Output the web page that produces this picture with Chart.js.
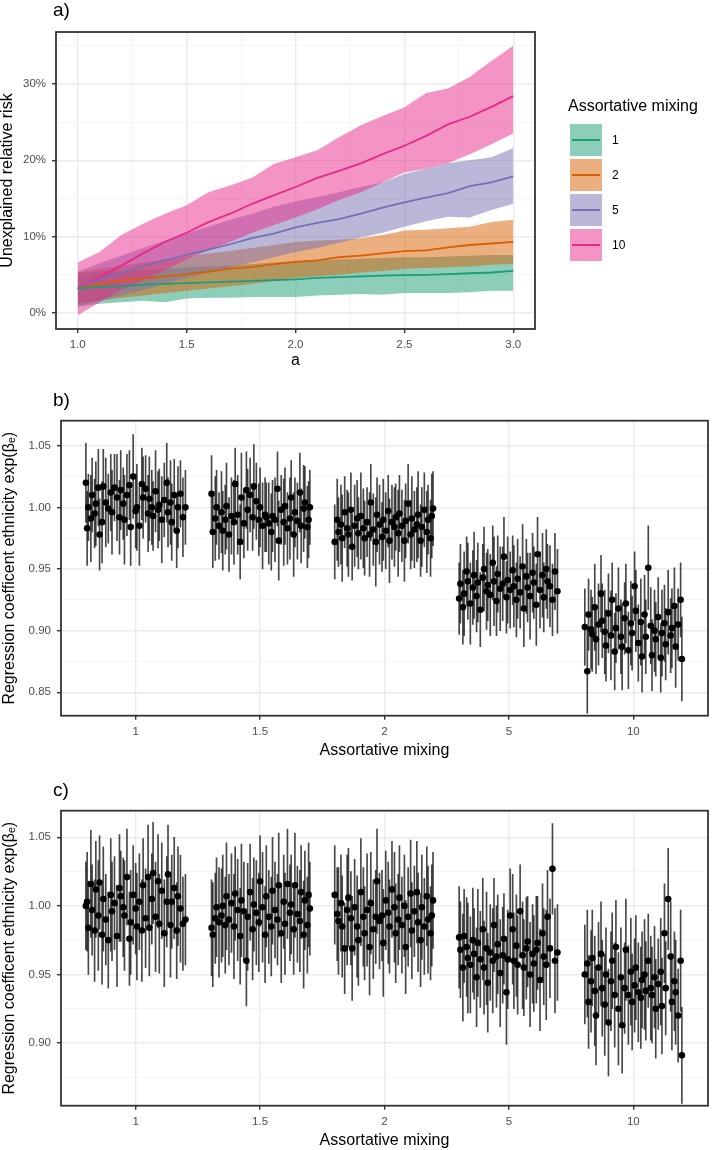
<!DOCTYPE html>
<html><head><meta charset="utf-8">
<script src="https://cdn.jsdelivr.net/npm/chart.js@4.4.1/dist/chart.umd.min.js"></script>
<style>
html,body{margin:0;padding:0;background:#fff;overflow:hidden;width:712px;height:1150px;font-family:'Liberation Sans',Arial,Helvetica,sans-serif;}
canvas{position:absolute;left:0;}
.plab{position:absolute;left:53px;font-size:19px;line-height:19px;color:#000;}
.ltitle{position:absolute;left:568px;top:98px;font-size:16px;line-height:16px;color:#000;white-space:nowrap;}
.lkey{position:absolute;left:569.5px;width:32px;height:32px;}
.lkey div{position:absolute;left:2px;right:2px;top:15px;height:2px;}
.ltext{position:absolute;left:612px;height:32px;line-height:32px;font-size:12px;color:#000;}
</style></head><body>
<canvas id="ca" width="712" height="370" style="top:0"></canvas>
<canvas id="cb" width="712" height="390" style="top:375px"></canvas>
<canvas id="cc" width="712" height="385" style="top:765px"></canvas>
<div class="plab" style="top:0px">a)</div>
<div class="plab" style="top:390px">b)</div>
<div class="plab" style="top:780px">c)</div>
<div class="ltitle">Assortative mixing</div>
<div id="legend"></div>
<script>
// ---------- Panel a data ----------
const aX = [1.0,1.1,1.2,1.3,1.4,1.5,1.6,1.7,1.8,1.9,2.0,2.1,2.2,2.3,2.4,2.5,2.6,2.7,2.8,2.9,3.0];
const seriesNames = ['1','2','5','10'];
const seriesColors = ['#1b9e77','#d95f02','#7570b3','#e7298a'];
const seriesFills = ['rgba(27,158,119,0.5)','rgba(217,95,2,0.5)','rgba(117,112,179,0.5)','rgba(231,41,138,0.5)'];
const mid1 = [3.2,3.4,3.5,3.7,3.8,3.9,4.0,4.1,4.2,4.3,4.4,4.6,4.7,4.8,4.9,4.95,5.0,5.1,5.2,5.3,5.5];
const lo1  = [0.8,1.2,1.4,1.6,1.4,1.9,2.0,2.0,2.1,2.1,2.1,2.3,2.4,2.5,2.4,2.6,2.6,2.6,2.7,2.9,2.9];
const hi1  = [5.2,5.4,5.6,5.7,5.8,6.0,6.1,6.2,6.4,6.6,6.8,6.9,7.0,7.1,7.2,7.3,7.3,7.4,7.5,7.6,7.6];
const mid2 = [3.2,3.8,4.2,4.5,4.8,5.1,5.4,5.8,6.0,6.4,6.7,6.9,7.3,7.5,7.8,8.1,8.2,8.6,8.9,9.1,9.3];
const lo2  = [1.3,1.6,2.0,2.3,2.6,2.9,3.2,3.5,3.8,4.2,4.6,4.8,5.0,5.3,5.5,5.8,5.9,6.0,6.1,6.3,6.4];
const hi2  = [5.3,5.8,6.2,6.6,7.0,7.4,7.8,8.1,8.5,8.9,9.3,9.5,9.6,9.8,10.2,10.8,10.9,11.1,11.3,11.9,12.2];
const mid3 = [3.2,4.4,5.3,6.1,6.9,7.6,8.3,9.0,9.8,10.4,11.2,11.8,12.3,13.0,13.8,14.5,15.1,15.7,16.6,17.1,17.9];
const lo3  = [1.0,1.6,2.3,3.0,3.8,4.6,5.3,6.0,6.6,7.3,8.0,8.5,9.2,9.9,10.5,11.3,12.0,12.6,12.5,13.5,14.3];
const hi3  = [5.4,6.5,7.5,8.5,9.5,10.4,11.3,12.2,13.0,13.9,14.6,15.2,15.8,16.5,17.1,18.2,18.9,19.6,20.0,20.4,21.6];
const mid4 = [3.2,4.7,6.2,7.8,9.3,10.5,11.9,13.0,14.3,15.4,16.5,17.7,18.6,19.6,20.8,21.9,23.2,24.7,25.7,27.0,28.4];
const lo4  = [-0.3,1.4,3.0,4.3,5.6,7.0,8.2,9.3,10.5,11.5,12.5,13.6,14.8,15.8,17.1,18.4,18.9,19.6,20.8,22.1,23.5];
const hi4  = [6.6,8.0,10.2,11.7,13.0,14.1,15.8,16.7,17.7,19.5,20.4,21.3,23.0,24.6,25.8,26.9,28.8,29.4,30.9,33.0,35.0];
const aYMajor = [0,10,20,30], aYMinor = [5,15,25,35];
const aXMajor = [1,1.5,2,2.5,3], aXMinor = [1.25,1.75,2.25,2.75];

// ---------- Panels b, c data ----------
const xCats = ['1','1.5','2','5','10'];
const jit1 = [-0.40,-0.39,-0.38,-0.36,-0.35,-0.33,-0.32,-0.30,-0.29,-0.27,-0.26,-0.24,-0.22,-0.20,-0.19,-0.17,-0.15,-0.13,-0.12,-0.10,-0.09,-0.07,-0.05,-0.04,-0.02,0.00,0.01,0.03,0.05,0.06,0.08,0.10,0.11,0.13,0.14,0.16,0.18,0.19,0.21,0.23,0.25,0.26,0.28,0.29,0.31,0.33,0.34,0.36,0.38,0.40];
const jit2 = [-0.39,-0.38,-0.36,-0.35,-0.33,-0.31,-0.30,-0.28,-0.27,-0.25,-0.23,-0.21,-0.20,-0.18,-0.16,-0.15,-0.13,-0.11,-0.10,-0.08,-0.06,-0.05,-0.03,-0.01,0.00,0.02,0.04,0.05,0.07,0.09,0.10,0.12,0.14,0.15,0.17,0.19,0.20,0.22,0.24,0.25,0.27,0.28,0.30,0.32,0.33,0.35,0.36,0.38,0.39,0.40];
const jit3 = [-0.40,-0.38,-0.37,-0.35,-0.34,-0.32,-0.30,-0.29,-0.27,-0.26,-0.24,-0.22,-0.21,-0.19,-0.17,-0.16,-0.14,-0.12,-0.11,-0.09,-0.07,-0.06,-0.04,-0.02,-0.01,0.01,0.03,0.04,0.06,0.08,0.09,0.11,0.12,0.14,0.16,0.17,0.19,0.21,0.22,0.24,0.26,0.27,0.29,0.30,0.32,0.34,0.35,0.37,0.38,0.39];
const jit4 = [-0.40,-0.39,-0.37,-0.36,-0.34,-0.33,-0.31,-0.29,-0.28,-0.26,-0.25,-0.23,-0.21,-0.20,-0.18,-0.17,-0.15,-0.13,-0.12,-0.10,-0.09,-0.07,-0.05,-0.04,-0.02,-0.01,0.01,0.03,0.04,0.06,0.07,0.09,0.11,0.12,0.14,0.15,0.17,0.19,0.20,0.22,0.23,0.25,0.27,0.28,0.30,0.31,0.33,0.35,0.37,0.39];
const jit5 = [-0.39,-0.37,-0.36,-0.34,-0.33,-0.31,-0.30,-0.28,-0.26,-0.25,-0.23,-0.22,-0.20,-0.18,-0.17,-0.15,-0.14,-0.12,-0.10,-0.09,-0.07,-0.06,-0.04,-0.02,-0.01,0.01,0.02,0.04,0.06,0.07,0.09,0.10,0.12,0.14,0.15,0.17,0.18,0.20,0.22,0.23,0.25,0.26,0.28,0.30,0.31,0.33,0.34,0.36,0.38,0.39];

const estB1 = [1.020,0.983,1.000,0.991,1.010,0.995,1.003,1.016,0.978,0.988,1.017,1.004,0.999,1.012,0.996,1.016,1.008,0.992,1.014,1.003,0.990,1.010,1.018,0.984,1.025,0.997,1.000,0.985,1.019,1.008,1.015,0.995,1.007,1.000,0.993,1.013,0.998,1.002,0.990,1.006,1.020,0.996,1.004,0.988,1.010,0.981,1.000,1.011,0.992,1.000];
const hwB1  = [0.032,0.030,0.027,0.035,0.030,0.028,0.034,0.031,0.029,0.033,0.030,0.036,0.028,0.031,0.034,0.027,0.035,0.030,0.032,0.029,0.036,0.033,0.028,0.031,0.034,0.030,0.035,0.032,0.029,0.033,0.027,0.031,0.034,0.030,0.028,0.033,0.031,0.029,0.035,0.030,0.032,0.028,0.034,0.031,0.029,0.030,0.033,0.027,0.032,0.030];
const estB2 = [1.011,0.980,0.991,1.000,0.985,0.996,0.981,0.990,1.001,0.978,0.993,0.988,1.019,0.994,0.972,1.008,0.987,1.014,0.998,1.010,0.992,1.017,1.005,0.990,1.000,0.985,0.994,0.992,0.987,0.980,0.993,0.990,1.015,0.973,0.998,0.988,1.001,0.983,0.991,1.008,0.978,0.996,0.989,1.012,0.985,0.999,1.004,0.984,0.990,1.000];
const hwB2  = [0.031,0.029,0.034,0.030,0.027,0.033,0.032,0.028,0.035,0.030,0.031,0.034,0.029,0.032,0.030,0.036,0.028,0.031,0.033,0.030,0.027,0.034,0.031,0.029,0.032,0.035,0.030,0.028,0.033,0.031,0.029,0.034,0.030,0.032,0.028,0.035,0.031,0.029,0.033,0.030,0.034,0.028,0.031,0.032,0.030,0.035,0.029,0.033,0.031,0.030];
const estB3 = [0.972,0.990,0.980,0.986,0.975,0.996,0.983,0.978,0.998,0.968,0.985,0.991,0.979,0.993,0.983,0.975,0.988,0.978,1.004,0.982,0.972,0.994,0.986,0.976,0.990,0.981,0.997,0.973,0.988,0.984,0.992,0.979,0.995,0.985,0.973,0.989,1.003,0.978,0.991,0.982,0.986,0.994,0.973,0.984,0.998,0.980,0.990,0.975,0.993,0.999];
const hwB3  = [0.030,0.033,0.028,0.032,0.035,0.029,0.031,0.034,0.030,0.027,0.033,0.031,0.029,0.035,0.032,0.030,0.028,0.034,0.031,0.029,0.036,0.030,0.032,0.028,0.033,0.031,0.029,0.034,0.030,0.032,0.027,0.035,0.031,0.029,0.033,0.030,0.032,0.028,0.034,0.031,0.030,0.035,0.029,0.032,0.030,0.033,0.028,0.031,0.034,0.030];
const estB4 = [0.926,0.938,0.919,0.930,0.948,0.940,0.922,0.935,0.945,0.928,0.939,0.917,0.943,0.950,0.932,0.937,0.929,0.955,0.940,0.924,0.946,0.934,0.938,0.960,0.927,0.941,0.933,0.949,0.936,0.925,0.942,0.931,0.952,0.918,0.944,0.935,0.928,0.947,0.939,0.921,0.962,0.933,0.945,0.927,0.950,0.940,0.936,0.925,0.948,0.932];
const hwB4  = [0.029,0.032,0.030,0.034,0.028,0.031,0.033,0.030,0.035,0.029,0.032,0.030,0.027,0.034,0.031,0.029,0.033,0.030,0.036,0.028,0.031,0.034,0.030,0.032,0.029,0.035,0.031,0.028,0.033,0.030,0.032,0.029,0.034,0.031,0.030,0.028,0.035,0.032,0.029,0.033,0.030,0.031,0.034,0.028,0.032,0.030,0.033,0.029,0.031,0.034];
const estB5 = [0.903,0.867,0.913,0.901,0.897,0.919,0.893,0.905,0.930,0.908,0.899,0.888,0.914,0.896,0.925,0.883,0.902,0.918,0.895,0.887,0.910,0.922,0.884,0.906,0.898,0.936,0.916,0.890,0.907,0.879,0.913,0.895,0.951,0.904,0.880,0.900,0.893,0.911,0.878,0.898,0.906,0.889,0.915,0.896,0.902,0.920,0.887,0.905,0.925,0.877];
const hwB5  = [0.031,0.034,0.029,0.032,0.030,0.035,0.028,0.033,0.031,0.030,0.034,0.029,0.032,0.036,0.030,0.031,0.028,0.033,0.030,0.035,0.029,0.032,0.031,0.034,0.030,0.028,0.033,0.031,0.035,0.029,0.032,0.030,0.034,0.031,0.029,0.033,0.030,0.032,0.028,0.035,0.031,0.029,0.034,0.030,0.032,0.031,0.033,0.029,0.030,0.034];

const estC1 = [1.000,1.003,0.984,1.016,0.997,0.982,1.012,0.993,1.017,0.979,1.005,0.990,0.975,1.008,0.996,1.002,0.978,1.013,1.007,0.999,0.993,1.021,0.976,0.988,1.008,0.998,0.985,1.003,0.982,1.015,0.991,1.021,0.984,1.005,1.024,0.992,1.018,0.987,1.011,0.980,1.003,1.023,0.986,1.003,1.013,0.982,1.007,0.998,0.987,0.990];
const hwC1  = [0.032,0.036,0.034,0.039,0.033,0.037,0.035,0.040,0.034,0.036,0.038,0.033,0.035,0.041,0.036,0.034,0.037,0.039,0.033,0.036,0.040,0.035,0.034,0.038,0.036,0.033,0.039,0.035,0.037,0.034,0.036,0.038,0.035,0.033,0.037,0.040,0.034,0.036,0.035,0.039,0.033,0.036,0.038,0.034,0.037,0.035,0.036,0.039,0.034,0.033];
const estC2 = [0.984,0.979,0.991,0.999,0.988,0.993,1.000,0.986,1.007,0.990,1.002,0.985,1.009,0.997,0.978,1.004,0.996,0.960,0.992,1.010,0.983,1.001,0.995,0.988,1.018,0.999,0.979,1.007,0.992,0.985,1.011,0.997,0.990,1.015,0.980,1.003,0.987,1.016,0.995,1.001,0.983,1.015,0.994,0.989,1.010,0.979,1.004,0.986,1.008,0.998];
const hwC2  = [0.035,0.038,0.033,0.036,0.040,0.034,0.037,0.035,0.039,0.033,0.036,0.038,0.034,0.037,0.035,0.041,0.036,0.033,0.039,0.035,0.037,0.034,0.038,0.036,0.033,0.040,0.035,0.037,0.034,0.036,0.039,0.035,0.033,0.038,0.036,0.034,0.037,0.040,0.035,0.036,0.033,0.038,0.035,0.037,0.034,0.039,0.036,0.035,0.038,0.034];
const estC3 = [1.008,0.994,0.989,1.002,0.985,0.969,0.997,1.006,0.991,0.969,0.999,0.985,0.975,1.010,0.992,0.980,0.997,0.970,1.002,0.983,0.992,1.018,0.989,0.993,0.973,1.004,0.995,0.985,1.012,0.999,0.980,0.990,1.006,0.986,1.000,0.970,0.992,1.009,0.982,0.996,1.010,0.988,0.975,0.999,0.985,1.007,0.990,0.980,0.993,1.004];
const hwC3  = [0.036,0.034,0.039,0.035,0.037,0.033,0.040,0.036,0.034,0.038,0.035,0.037,0.033,0.039,0.036,0.034,0.041,0.035,0.037,0.036,0.034,0.038,0.035,0.033,0.039,0.036,0.037,0.034,0.035,0.040,0.036,0.033,0.038,0.035,0.037,0.034,0.036,0.039,0.035,0.033,0.037,0.036,0.034,0.038,0.035,0.036,0.039,0.034,0.037,0.035];
const estC4 = [0.977,0.968,0.955,0.978,0.970,0.962,0.957,0.975,0.965,0.948,0.973,0.961,0.983,0.955,0.969,0.944,0.966,0.960,0.986,0.963,0.972,0.951,0.964,0.976,0.937,0.961,0.993,0.983,0.960,0.971,0.957,0.996,0.964,0.955,0.969,0.974,0.950,0.965,0.958,0.968,0.973,0.946,0.980,0.963,0.957,0.992,0.969,1.027,0.960,0.966];
const hwC4  = [0.037,0.035,0.039,0.034,0.036,0.040,0.035,0.038,0.033,0.036,0.039,0.035,0.037,0.034,0.041,0.036,0.035,0.038,0.034,0.037,0.036,0.039,0.035,0.033,0.038,0.036,0.034,0.040,0.035,0.037,0.036,0.034,0.039,0.035,0.037,0.033,0.038,0.036,0.035,0.039,0.034,0.037,0.036,0.035,0.040,0.034,0.036,0.033,0.038,0.035];
const estC5 = [0.950,0.958,0.930,0.945,0.962,0.938,0.920,0.955,0.965,0.940,0.928,0.950,0.915,0.945,0.960,0.935,0.970,0.925,0.948,0.913,0.940,0.968,0.935,0.952,0.930,0.942,0.955,0.937,0.933,0.946,0.950,0.938,0.960,0.940,0.935,0.948,0.925,0.943,0.952,0.927,0.980,0.940,1.005,0.963,0.930,0.945,0.937,0.920,0.960,0.891];
const hwC5  = [0.036,0.039,0.034,0.037,0.035,0.040,0.036,0.033,0.038,0.035,0.037,0.034,0.039,0.036,0.035,0.038,0.034,0.041,0.036,0.035,0.033,0.037,0.036,0.039,0.035,0.034,0.038,0.036,0.037,0.035,0.040,0.036,0.034,0.038,0.035,0.037,0.036,0.033,0.039,0.035,0.036,0.034,0.037,0.040,0.035,0.036,0.038,0.034,0.037,0.035];

const bYMajor = [0.85,0.90,0.95,1.00,1.05], bYMinor = [0.875,0.925,0.975,1.025];
const cYMajor = [0.90,0.95,1.00,1.05], cYMinor = [0.875,0.925,0.975,1.025];

// ---------- helpers ----------
const FF = "'Liberation Sans', Arial, Helvetica, sans-serif";
Chart.defaults.font.family = FF;

const framePlugin = {
  id: 'frame',
  afterDatasetsDraw(chart) {
    const {ctx, chartArea: a} = chart;
    ctx.save();
    ctx.strokeStyle = '#333333';
    ctx.lineWidth = 1.8;
    ctx.strokeRect(a.left, a.top, a.right - a.left, a.bottom - a.top);
    ctx.restore();
  }
};

function mkAxis(o) {
  const all = o.major.concat(o.minor).sort((p, q) => p - q);
  const isMinor = v => o.minor.some(m => Math.abs(m - v) < 1e-9);
  const minorCtx = c => c.tick && isMinor(c.tick.value);
  return {
    type: 'linear', min: o.min, max: o.max, offset: false,
    afterBuildTicks: s => { s.ticks = all.map(v => ({value: v})); },
    afterFit: s => { if (o.horizontal) s.height = o.size; else s.width = o.size; },
    ticks: {
      autoSkip: false, maxRotation: 0, minRotation: 0, padding: o.tickPad,
      color: '#4d4d4d', font: {size: 11.5, family: FF},
      callback: v => isMinor(v) ? '' : o.fmt(v)
    },
    grid: {
      offset: false, drawOnChartArea: true, drawTicks: true, tickLength: 4,
      color: c => minorCtx(c) ? '#f3f3f3' : '#ebebeb',
      lineWidth: c => minorCtx(c) ? 0.8 : 1.4,
      tickColor: c => minorCtx(c) ? 'rgba(0,0,0,0)' : '#333333',
      tickWidth: 1.4
    },
    border: {display: false},
    title: {display: true, text: o.title, color: '#000', font: {size: 16, family: FF, lineHeight: 1}, padding: o.titlePad}
  };
}

// ---------- Panel a ----------
const mids = [mid1, mid2, mid3, mid4], los = [lo1, lo2, lo3, lo4], his = [hi1, hi2, hi3, hi4];
const toXY = arr => aX.map((x, i) => ({x: x, y: arr[i]}));
const dsA = [];
for (let k = 0; k < 4; k++) {
  dsA.push({label: seriesNames[k] + ' upper', data: toXY(his[k]), fill: '+1', backgroundColor: seriesFills[k],
    borderColor: 'rgba(0,0,0,0)', borderWidth: 0, pointRadius: 0, tension: 0, order: 4 - k + 1});
  dsA.push({label: seriesNames[k] + ' lower', data: toXY(los[k]), fill: false,
    borderColor: 'rgba(0,0,0,0)', borderWidth: 0, pointRadius: 0, tension: 0, order: 4 - k + 1});
}
for (let k = 0; k < 4; k++) {
  dsA.push({label: seriesNames[k], data: toXY(mids[k]), fill: false, borderColor: seriesColors[k],
    borderWidth: 1.8, pointRadius: 0, tension: 0, order: 0});
}
new Chart(document.getElementById('ca'), {
  type: 'line',
  data: {datasets: dsA},
  options: {
    responsive: false, animation: false, events: [],
    layout: {padding: {top: 32, right: 177, left: 0, bottom: 0}},
    plugins: {legend: {display: false}, tooltip: {enabled: false}},
    scales: {
      x: mkAxis({min: 0.9, max: 3.1, major: aXMajor, minor: aXMinor, fmt: v => v.toFixed(1), size: 41, horizontal: true,
        title: 'a', titlePad: {top: 0, bottom: 1}, tickPad: 5}),
      y: mkAxis({min: -2.1, max: 36.8, major: aYMajor, minor: aYMinor, fmt: v => v.toFixed(0) + '%', size: 56, horizontal: false,
        title: 'Unexplained relative risk', titlePad: {top: 0, bottom: 0}, tickPad: 6})
    }
  },
  plugins: [framePlugin]
});

// legend for panel a
const lg = document.getElementById('legend');
seriesNames.forEach((n, k) => {
  const top = 123.5 + k * 35.2;
  const key = document.createElement('div');
  key.className = 'lkey';
  key.style.top = top + 'px';
  key.style.background = seriesFills[k];
  const ln = document.createElement('div');
  ln.style.background = seriesColors[k];
  key.appendChild(ln);
  lg.appendChild(key);
  const t = document.createElement('div');
  t.className = 'ltext';
  t.style.top = top + 'px';
  t.textContent = n;
  lg.appendChild(t);
});

// ---------- Panels b and c ----------
const jits = [jit1, jit2, jit3, jit4, jit5];
function buildPR(ests, hws) {
  const bars = [], pts = [];
  for (let g = 0; g < 5; g++) {
    const n = Math.min(jits[g].length, ests[g].length, hws[g].length);
    for (let i = 0; i < n; i++) {
      const x = g + 1 + jits[g][i];
      bars.push({x: x, y: [ests[g][i] - hws[g][i], ests[g][i] + hws[g][i]]});
      pts.push({x: x, y: ests[g][i]});
    }
  }
  return {bars, pts};
}

function mkPanel(id, ests, hws, yMin, yMax, yMajor, yMinor, xH, xTitlePadBottom) {
  const d = buildPR(ests, hws);
  new Chart(document.getElementById(id), {
    type: 'scatter',
    data: {datasets: [
      {type: 'bar', label: 'CI', data: d.bars, backgroundColor: 'rgba(0,0,0,0.72)', borderWidth: 0,
        barThickness: 1, order: 1},
      {type: 'scatter', label: 'estimate', data: d.pts, backgroundColor: '#000', borderWidth: 0,
        pointRadius: 3.3, order: 0}
    ]},
    options: {
      responsive: false, animation: false, events: [],
      layout: {padding: {top: 45.7, right: 4, left: 0, bottom: 0}},
      plugins: {legend: {display: false}, tooltip: {enabled: false}},
      scales: {
        x: mkAxis({min: 0.4, max: 5.6, major: [1, 2, 3, 4, 5], minor: [], fmt: v => xCats[Math.round(v) - 1], size: xH, horizontal: true,
          title: 'Assortative mixing', titlePad: {top: 0, bottom: xTitlePadBottom}, tickPad: 5}),
        y: mkAxis({min: yMin, max: yMax, major: yMajor, minor: yMinor, fmt: v => v.toFixed(2), size: 61, horizontal: false,
          title: 'Regression coefficent ethnicity exp(\u03B2\u2091)', titlePad: {top: 1.2, bottom: 0}, tickPad: 6})
      }
    },
    plugins: [framePlugin]
  });
}

mkPanel('cb', [estB1, estB2, estB3, estB4, estB5], [hwB1, hwB2, hwB3, hwB4, hwB5], 0.831, 1.0703, bYMajor, bYMinor, 49.3, 6);
mkPanel('cc', [estC1, estC2, estC3, estC4, estC5], [hwC1, hwC2, hwC3, hwC4, hwC5], 0.8543, 1.0694, cYMajor, cYMinor, 44.3, 1);
</script>
</body></html>
